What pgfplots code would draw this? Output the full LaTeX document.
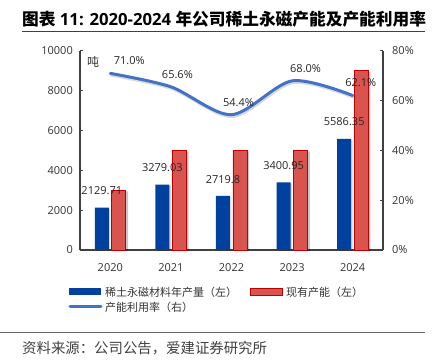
\documentclass[border=0pt]{standalone}
\usepackage{fontspec}
\setmainfont{Open Sans}
\newfontfamily\cjk{Noto Sans CJK SC}
\usepackage{pgfplots}
\usepackage{pgfplotstable}
\pgfplotsset{compat=1.18}
\definecolor{barblue}{HTML}{0041A0}
\definecolor{barred}{HTML}{D9534F}
\definecolor{redborder}{HTML}{C00000}
\definecolor{lineblue}{HTML}{4472C4}
\definecolor{axisgray}{HTML}{404040}
\definecolor{txt}{HTML}{333333}

\pgfplotstableread{
x prod label
0 2129.71 2129.71
1 3279.03 3279.03
2 2719.8 2719.8
3 3400.95 3400.95
4 5586.35 5586.35
}\prodtable

\pgfplotstableread{
x cap
0 3000
1 5000
2 5000
3 5000
4 9000
}\captable

\pgfplotstableread{
x rate dx
0 71.0 19
1 65.6 6.5
2 54.4 7
3 68.0 13.5
4 62.1 8
}\ratetable

\begin{document}
\begin{tikzpicture}
\path[use as bounding box] (0pt,0pt) rectangle (433pt,363pt);
% title
\node[anchor=west, inner sep=0, text=black] at (22pt,343.5pt) {\fontsize{16.7}{16.7}\selectfont\bfseries{\cjk 图表} 11: 2020-2024 {\cjk 年公司稀土永磁产能及产能利用率}};
\draw[axisgray, line width=1.6pt] (22pt,331.5pt) -- (425pt,331.5pt);

\begin{axis}[
  at={(80pt,113pt)}, anchor=south west, scale only axis,
  width=303pt, height=199pt,
  xmin=-0.5, xmax=4.5, ymin=0, ymax=10000,
  axis y line*=left, axis x line*=bottom,
  axis line style={-, axisgray, line width=1.3pt},
  ytick={0,2000,...,10000}, scaled y ticks=false,
  yticklabel={\pgfmathprintnumber[1000 sep={}]{\tick}},
  /pgf/number format/assume math mode=true,
  tick align=inside, major tick length=3pt,
  ytick style={axisgray, line width=1pt},
  xtick={0,...,4}, xticklabels={2020,2021,2022,2023,2024},
  xtick style={draw=none},
  yticklabel style={font=\fontsize{11}{11}\selectfont, text=txt, inner sep=0pt, xshift=-7pt},
  xticklabel style={font=\fontsize{11}{11}\selectfont, text=txt, inner sep=0pt, yshift=-10pt},
  ybar=3pt, bar width=14pt,
  clip=false,
]
\addplot[fill=barblue, draw=none,
  preaction={fill=black, fill opacity=0.15, transform canvas={xshift=1.5pt, yshift=-1pt}},
  nodes near coords, point meta=explicit symbolic,
  every node near coord/.append style={font=\fontsize{11}{11}\selectfont, text=black!85, inner sep=0pt, anchor=south, yshift=12.5pt}]
  table[x=x, y=prod, meta=label]{\prodtable};
\addplot[fill=barred, draw=redborder, line width=0.8pt,
  preaction={fill=black, draw=none, fill opacity=0.22, transform canvas={xshift=2.2pt, yshift=-1.2pt}}]
  table[x=x, y=cap]{\captable};
\end{axis}

\begin{axis}[
  at={(80pt,113pt)}, anchor=south west, scale only axis,
  width=303pt, height=199pt,
  xmin=-0.5, xmax=4.5, ymin=0, ymax=80,
  axis y line*=right, axis x line=none,
  axis line style={-, axisgray, line width=1.3pt},
  ytick={0,20,...,80},
  yticklabel={\pgfmathprintnumber{\tick}\%},
  /pgf/number format/assume math mode=true,
  tick align=inside, major tick length=3pt,
  ytick style={axisgray, line width=1pt},
  yticklabel style={font=\fontsize{11}{11}\selectfont, text=txt, inner sep=0pt, xshift=9pt},
  clip=false,
]
\addplot[lineblue, line width=3pt, line cap=round, smooth,
  preaction={draw=black, draw opacity=0.15, transform canvas={xshift=1pt, yshift=-1.8pt}},
  nodes near coords={\pgfmathprintnumber[fixed,fixed zerofill,precision=1]{\pgfplotspointmeta}\%},
  point meta=explicit,
  visualization depends on={\thisrow{dx} \as \dx},
  every node near coord/.append style={font=\fontsize{11}{11}\selectfont, text=black!85, anchor=center, xshift=\dx pt, yshift=12.5pt}]
  table[x=x, y=rate, meta=rate]{\ratetable};
\end{axis}

\node[text=txt] at (93pt,301pt) {\cjk\fontsize{12}{12}\selectfont 吨};

% legend
\fill[barblue] (69pt,67.5pt) rectangle (101pt,74.5pt);
\node[anchor=west, inner sep=0, text=txt] at (105pt,71pt) {\cjk\fontsize{11}{11}\selectfont 稀土永磁材料年产量（左）};
\filldraw[fill=barred, draw=redborder, line width=0.8pt] (250pt,67.5pt) rectangle (282pt,74.5pt);
\node[anchor=west, inner sep=0, text=txt] at (286pt,71pt) {\cjk\fontsize{11}{11}\selectfont 现有产能（左）};
\draw[lineblue, line width=3pt, line cap=round] (70pt,56pt) -- (101pt,56pt);
\node[anchor=west, inner sep=0, text=txt] at (105pt,56pt) {\cjk\fontsize{11}{11}\selectfont 产能利用率（右）};

% footer
\draw[black!60, line width=1pt] (0pt,30pt) -- (425pt,30pt);
\node[anchor=west, inner sep=0, text=axisgray] at (22pt,15pt) {\cjk\fontsize{14.4}{14.4}\selectfont 资料来源：公司公告，爱建证券研究所};
\end{tikzpicture}
\end{document}
